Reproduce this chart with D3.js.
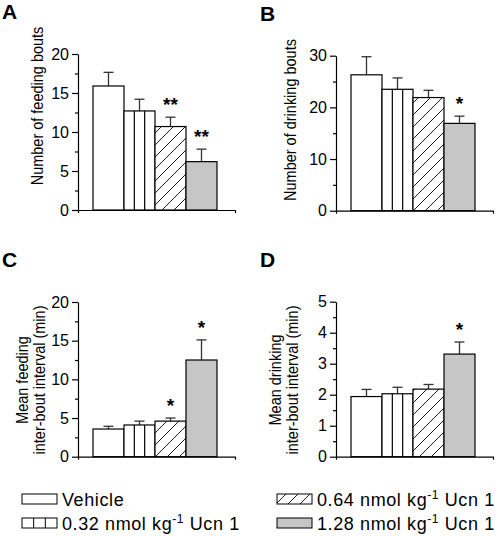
<!DOCTYPE html>
<html><head><meta charset="utf-8">
<script src="https://cdn.jsdelivr.net/npm/d3@7"></script>
<style>
body{margin:0;background:#fff}
svg{display:block}
text{font-family:Arial,"Liberation Sans",Helvetica,sans-serif;fill:#000}
</style>
</head><body>
<svg id="chart" width="502" height="536"></svg>
<script>
// ---------- data ----------
const groups = ["Vehicle", "0.32", "0.64", "1.28"];
const groupLabels = ["Vehicle", "0.32 nmol kg|-1| Ucn 1", "0.64 nmol kg|-1| Ucn 1", "1.28 nmol kg|-1| Ucn 1"];

const feedingBouts    = [15.9, 12.7, 10.7, 6.2];
const feedingBoutsSem = [1.75, 1.5, 1.2, 1.6];
const feedingBoutsSig = ["", "", "**", "**"];

const drinkingBouts    = [26.3, 23.5, 21.9, 16.9];
const drinkingBoutsSem = [3.5, 2.2, 1.4, 1.4];
const drinkingBoutsSig = ["", "", "", "*"];

const feedingIBI    = [3.58, 4.1, 4.6, 12.5];
const feedingIBISem = [0.35, 0.5, 0.4, 2.6];
const feedingIBISig = ["", "", "*", "*"];

const drinkingIBI    = [1.94, 2.03, 2.18, 3.31];
const drinkingIBISem = [0.23, 0.21, 0.15, 0.39];
const drinkingIBISig = ["", "", "", "*"];

const ticksA = [0, 5, 10, 15, 20];
const ticksB = [0, 10, 20, 30];
const ticksC = [0, 5, 10, 15, 20];
const ticksD = [0, 1, 2, 3, 4, 5];

// ---------- drawing ----------
const svg = d3.select("#chart");
const GRAY = "#c6c6c6";
const ERR = "#333";

const defs = svg.append("defs");
const pat = defs.append("pattern").attr("id", "hatch")
  .attr("patternUnits", "userSpaceOnUse").attr("width", 12).attr("height", 12);
pat.append("rect").attr("width", 12).attr("height", 12).attr("fill", "#fff");
pat.append("path").attr("d", "M0,12 L12,0 M-3,3 L3,-3 M9,15 L15,9")
  .attr("stroke", "#000").attr("stroke-width", 0.9);

function fillFor(i) {
  return i === 2 ? "url(#hatch)" : (i === 3 ? GRAY : "#fff");
}

function panel(cfg) {
  const g = svg.append("g");
  const y = d3.scaleLinear().domain([0, cfg.max]).range([cfg.yBottom, cfg.yTop]);
  const x = d3.scaleBand().domain(groups).range([cfg.ax + 15, cfg.ax + 15 + 124]).padding(0);

  // letter
  g.append("text").attr("x", cfg.ax - 76).attr("y", cfg.yTop - 35)
    .attr("font-size", 21).attr("font-weight", "bold").text(cfg.letter);

  const data = cfg.values.map((v, i) => ({ g: groups[i], v, e: cfg.sem[i], s: cfg.sig[i], i }));
  // error bars
  data.forEach(d => {
    const cx = x(d.g) + x.bandwidth() / 2;
    g.append("line").attr("x1", cx).attr("x2", cx)
      .attr("y1", y(d.v)).attr("y2", y(d.v + d.e))
      .attr("stroke", ERR).attr("stroke-width", 1.3);
    g.append("line").attr("x1", cx - 5).attr("x2", cx + 5)
      .attr("y1", y(d.v + d.e)).attr("y2", y(d.v + d.e))
      .attr("stroke", ERR).attr("stroke-width", 1.3);
  });
  g.selectAll("rect.bar").data(data).join("rect").attr("class", "bar")
    .attr("x", d => x(d.g)).attr("width", x.bandwidth())
    .attr("y", d => y(d.v)).attr("height", d => y(0) - y(d.v))
    .attr("fill", d => fillFor(d.i)).attr("stroke", "#000").attr("stroke-width", 1.2);
  // vertical stripes for second group
  data.filter(d => d.i === 1).forEach(d => {
    [1, 2].forEach(k => {
      const xx = x(d.g) + x.bandwidth() * k / 3;
      g.append("line").attr("x1", xx).attr("x2", xx).attr("y1", y(d.v)).attr("y2", y(0))
        .attr("stroke", "#000").attr("stroke-width", 1.2);
    });
  });
  // significance
  data.forEach(d => {
    if (!d.s) return;
    g.append("text").attr("x", x(d.g) + x.bandwidth() / 2).attr("y", y(d.v + d.e) - 6)
      .attr("text-anchor", "middle").attr("font-size", 19).attr("font-weight", "bold").text(d.s);
  });

  // y axis
  const minor = d3.range(0, cfg.max + 1e-9, cfg.minorStep).filter(v => !cfg.ticks.some(t => Math.abs(t - v) < 1e-9));
  const ay = g.append("g").attr("transform", `translate(${cfg.ax},0)`)
    .call(d3.axisLeft(y).tickValues(cfg.ticks).tickFormat(d3.format("d")).tickSize(6).tickPadding(3).tickSizeOuter(0));
  ay.selectAll("text").attr("font-size", 16).attr("font-family", "Arial,'Liberation Sans',sans-serif");
  ay.select(".domain").attr("stroke-width", 1.2);
  ay.selectAll(".tick line").attr("stroke-width", 1.2);
  const am = g.append("g").attr("transform", `translate(${cfg.ax},0)`)
    .call(d3.axisLeft(y).tickValues(minor).tickSize(3).tickFormat("").tickSizeOuter(0));
  am.select(".domain").remove();
  am.selectAll(".tick line").attr("stroke-width", 1.2);

  // x axis
  const xs = d3.scaleLinear().domain([0, 1]).range([cfg.ax, cfg.ax + 157]);
  const ax = g.append("g").attr("transform", `translate(0,${cfg.yBottom})`)
    .call(d3.axisBottom(xs).tickValues([0, 1]).tickSize(3).tickFormat("").tickSizeOuter(0));
  ax.select(".domain").attr("stroke-width", 1.2);
  ax.selectAll(".tick line").attr("stroke-width", 1.2);

  // y label (slightly widened glyphs, as in the reference)
  const lab = g.append("text").attr("font-size", 14.5).attr("text-anchor", "middle")
    .attr("transform", `translate(${cfg.labX},${cfg.labY}) scale(1.15,1) rotate(-90)`);
  cfg.label.forEach((t, k) => {
    lab.append("tspan").attr("x", 0).attr("dy", k === 0 ? 0 : 15).text(t);
  });
}

panel({ letter: "A", ax: 78, yTop: 54, yBottom: 210, max: 20, ticks: ticksA, minorStep: 2.5,
  values: feedingBouts, sem: feedingBoutsSem, sig: feedingBoutsSig,
  label: ["Number of feeding bouts"], labX: 43, labY: 106 });
panel({ letter: "B", ax: 336, yTop: 55.7, yBottom: 210.7, max: 30, ticks: ticksB, minorStep: 5,
  values: drinkingBouts, sem: drinkingBoutsSem, sig: drinkingBoutsSig,
  label: ["Number of drinking bouts"], labX: 296, labY: 120 });
panel({ letter: "C", ax: 78, yTop: 302, yBottom: 456.7, max: 20, ticks: ticksC, minorStep: 2.5,
  values: feedingIBI, sem: feedingIBISem, sig: feedingIBISig,
  label: ["Mean feeding", "inter-bout interval (min)"], labX: 28, labY: 380 });
panel({ letter: "D", ax: 336, yTop: 301.7, yBottom: 456.7, max: 5, ticks: ticksD, minorStep: 0.5,
  values: drinkingIBI, sem: drinkingIBISem, sig: drinkingIBISig,
  label: ["Mean drinking", "inter-bout interval (min)"], labX: 281, labY: 380 });

// ---------- legend ----------
const legendPos = [
  { x: 22, y: 494 }, { x: 22, y: 518 }, { x: 277, y: 494 }, { x: 277, y: 518 }
];
const lg = svg.append("g");
groupLabels.forEach((lbl, i) => {
  const p = legendPos[i];
  lg.append("rect").attr("x", p.x).attr("y", p.y).attr("width", 35).attr("height", 10)
    .attr("fill", fillFor(i)).attr("stroke", "#000").attr("stroke-width", 1);
  if (i === 1) {
    [1, 2].forEach(k => lg.append("line").attr("x1", p.x + 35 * k / 3).attr("x2", p.x + 35 * k / 3)
      .attr("y1", p.y).attr("y2", p.y + 10).attr("stroke", "#000").attr("stroke-width", 1));
  }
  const t = lg.append("text").attr("x", p.x + 40).attr("y", p.y + 12).attr("font-size", 18)
    .attr("letter-spacing", 0.6);
  const parts = lbl.split("|");
  t.append("tspan").text(parts[0]);
  if (parts.length > 1) {
    t.append("tspan").attr("font-size", 12).attr("dy", -7).text(parts[1]);
    t.append("tspan").attr("dy", 7).text(parts[2]);
  }
});
</script>
</body></html>
